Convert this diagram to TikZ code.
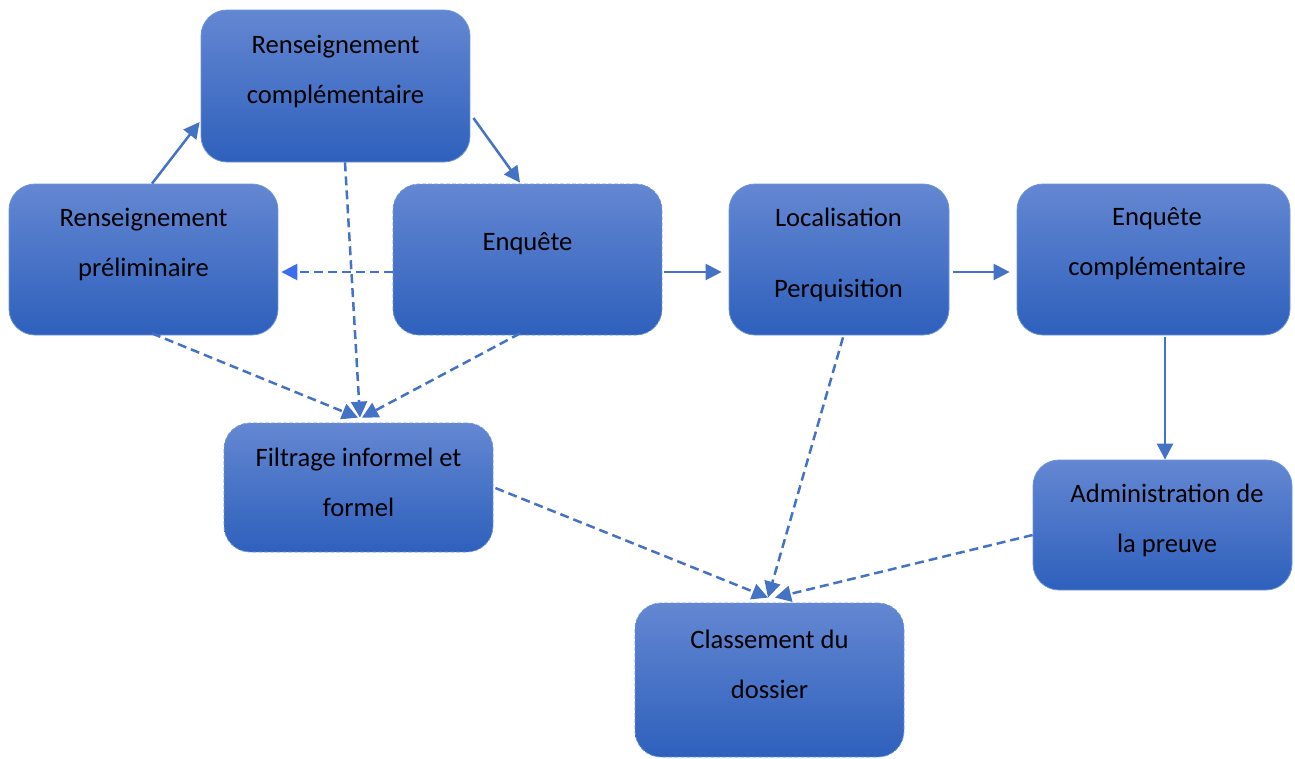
\documentclass[tikz,border=0pt]{standalone}
\usepackage{fontspec}
\setmainfont{Carlito}
\usetikzlibrary{arrows.meta,calc}
\definecolor{topc}{HTML}{6487D2}
\definecolor{botc}{HTML}{2E60BC}
\definecolor{edgec}{HTML}{7094DA}
\definecolor{arrc}{HTML}{4472C4}
\definecolor{brightc}{HTML}{3B6CF2}
\tikzset{
  box/.style={rectangle, rounded corners=26pt, top color=topc, bottom color=botc, draw=edgec, line width=0.8pt, inner sep=0pt},
  dbox/.style={box, dash pattern=on 4pt off 2pt},
  lbl/.style={align=center, font=\fontsize{26.6}{50}\selectfont, text=black, inner sep=0pt},
  conn/.style={draw=arrc, line width=2.5pt, -{Triangle[length=16pt,width=16pt]}},
  dconn/.style={conn, dash pattern=on 9pt off 5pt}
}
\begin{document}
\begin{tikzpicture}[x=1pt,y=-1pt]
\useasboundingbox (0,0) rectangle (1295,758);
% boxes
\node[box, minimum width=269pt, minimum height=152pt] (comp) at (335.5,86) {};
\node[box, minimum width=269pt, minimum height=151pt] (prelim) at (143.5,259.5) {};
\node[dbox, minimum width=269pt, minimum height=151pt] (enq) at (527.5,259.5) {};
\node[box, minimum width=220pt, minimum height=151pt] (loc) at (839,259.5) {};
\node[box, minimum width=273pt, minimum height=151pt] (enqc) at (1153.5,259.5) {};
\node[dbox, minimum width=269pt, minimum height=129pt] (filt) at (358.5,487.5) {};
\node[box, minimum width=259pt, minimum height=130pt] (admin) at (1162.5,525) {};
\node[dbox, minimum width=269pt, minimum height=154pt] (class) at (769.5,680) {};
% labels
\node[lbl] (compT) at (335.5,71) {Renseignement\\complémentaire};
\node[lbl] (prelimT) at (143.5,244) {Renseignement\\préliminaire};
\node[lbl] (enqT) at (527.5,244) {Enquête};
\node[lbl, font=\fontsize{26.6}{71}\selectfont] (locT) at (838.5,255) {Localisation\\Perquisition};
\node[lbl] (enqcT) at (1157,244) {Enquête\\complémentaire};
\node[lbl] (filtT) at (358.5,482) {Filtrage informel et\\formel};
\node[lbl] (adminT) at (1167,520) {Administration de\\la preuve};
\node[lbl] (classT) at (769.5,664) {Classement du\\dossier};
% connectors
\draw[conn] ($(prelim.north)+(8.5,0)$) -- ($(comp.west)+(-1,36)$);
\draw[conn] ($(comp.east)+(3,32)$) -- ($(enq.north)+(-7.5,-1)$);
\draw[dconn, draw=brightc] ($(enq.west)+(0,12.5)$) -- ($(prelim.east)+(3,12.5)$);
\draw[conn] ($(enq.east)+(2,12.5)$) -- ($(loc.west)+(-7,12.5)$);
\draw[conn] ($(loc.east)+(4,12.5)$) -- ($(enqc.west)+(-7,12.5)$);
\draw[conn] ($(enqc.south)+(11.5,2)$) -- ($(admin.north)+(2.5,0)$);
\draw[dconn] ($(prelim.south)+(8.5,-2)$) -- ($(filt.north)+(-0.5,-5)$);
\draw[dconn] ($(comp.south)+(9.5,0)$) -- ($(filt.north)+(1.5,-5)$);
\draw[dconn] ($(enq.south)+(-7.5,-2)$) -- ($(filt.north)+(3.5,-5)$);
\draw[dconn] ($(filt.east)+(2,0.5)$) -- ($(class.north)+(-1.5,-5)$);
\draw[dconn] ($(loc.south)+(4,2)$) -- ($(class.north)+(-1.5,-5)$);
\draw[dconn] ($(admin.west)+(0,10)$) -- ($(class.north)+(5.5,-5)$);
\end{tikzpicture}
\end{document}
